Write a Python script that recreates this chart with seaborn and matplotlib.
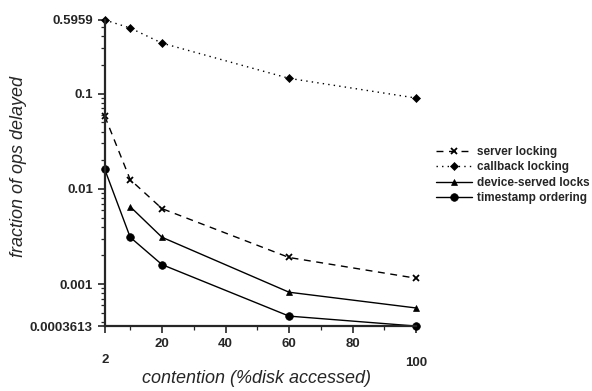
import pandas as pd
import matplotlib
matplotlib.use("Agg")
import matplotlib.pyplot as plt
import matplotlib.ticker as mticker
import seaborn as sns

# Datos
contencion = [2, 10, 20, 60, 100]
server_locking = [0.058, 0.0125, 0.0062, 0.0019, 0.00115]
callback_locking = [0.5959, 0.49, 0.34, 0.145, 0.09]
device_x = [10, 20, 60, 100]
device_served = [0.0065, 0.0031, 0.00082, 0.00056]
timestamp_ordering = [0.016, 0.0031, 0.0016, 0.00046, 0.0003613]

series = ["server locking", "callback locking", "device-served locks", "timestamp ordering"]
y_ticks = [0.0003613, 0.001, 0.01, 0.1, 0.5959]
y_labels = ["0.0003613", "0.001", "0.01", "0.1", "0.5959"]
x_ticks = [2, 20, 40, 60, 80, 100]

df = pd.concat([
    pd.DataFrame({"x": contencion, "y": server_locking, "serie": series[0]}),
    pd.DataFrame({"x": contencion, "y": callback_locking, "serie": series[1]}),
    pd.DataFrame({"x": device_x, "y": device_served, "serie": series[2]}),
    pd.DataFrame({"x": contencion, "y": timestamp_ordering, "serie": series[3]}),
])

sns.set_style("ticks")
plt.rcParams["font.family"] = ["Liberation Sans", "DejaVu Sans"]

fig = plt.figure(figsize=(5.92, 3.91), dpi=100)
ax = fig.add_axes([0.177, 0.166, 0.526, 0.783])

estilos = {
    series[0]: dict(ls=(0, (5, 4)), marker="x", ms=5, mew=1.3),
    series[1]: dict(ls=(0, (1, 3)), marker="D", ms=4, mew=0.5),
    series[2]: dict(ls="-", marker="^", ms=5, mew=0.5),
    series[3]: dict(ls="-", marker="o", ms=5.5, mew=0.5),
}

for s in series:
    d = df[df["serie"] == s]
    e = estilos[s]
    sns.lineplot(data=d, x="x", y="y", ax=ax, color="black", lw=1.0,
                 linestyle=e["ls"], marker=e["marker"], markersize=e["ms"],
                 markeredgewidth=e["mew"], markeredgecolor="black",
                 label=s, clip_on=False)

ax.set_yscale("log")
ax.set_xlim(2, 100)
ax.set_ylim(0.0003613, 0.5959)

ax.set_yticks(y_ticks)
ax.set_yticklabels(y_labels)
ax.yaxis.set_minor_locator(mticker.LogLocator(base=10, subs=range(2, 10)))
ax.yaxis.set_minor_formatter(mticker.NullFormatter())

ax.set_xticks(x_ticks)
ax.set_xticklabels([str(v) for v in x_ticks])
ax.xaxis.set_minor_locator(mticker.FixedLocator([10, 30, 50, 70, 90]))

ax.tick_params(axis="both", which="major", length=5, width=1.2, labelsize=9.5)
ax.tick_params(axis="both", which="minor", length=3, width=0.9)
xt = ax.xaxis.get_major_ticks()
xt[0].set_pad(15)
xt[-1].set_pad(17)
for lbl in ax.get_xticklabels() + ax.get_yticklabels():
    lbl.set_fontweight("bold")

sns.despine(ax=ax)
for sp in ["left", "bottom"]:
    ax.spines[sp].set_linewidth(1.6)

ax.set_xlabel("contention (%disk accessed)", fontsize=13, fontstyle="italic")
ax.xaxis.set_label_coords(0.487, -0.145)
ax.set_ylabel("fraction of ops delayed", fontsize=13, fontstyle="italic")
ax.yaxis.set_label_coords(-0.25, 0.52)

leg = ax.legend(loc="center left", bbox_to_anchor=(1.065, 0.493), frameon=False,
                fontsize=8.5, handlelength=3.0, handletextpad=0.45, labelspacing=0.3,
                borderaxespad=0, borderpad=0)
for t in leg.get_texts():
    t.set_fontweight("bold")

fig.savefig("out.png", dpi=100)
